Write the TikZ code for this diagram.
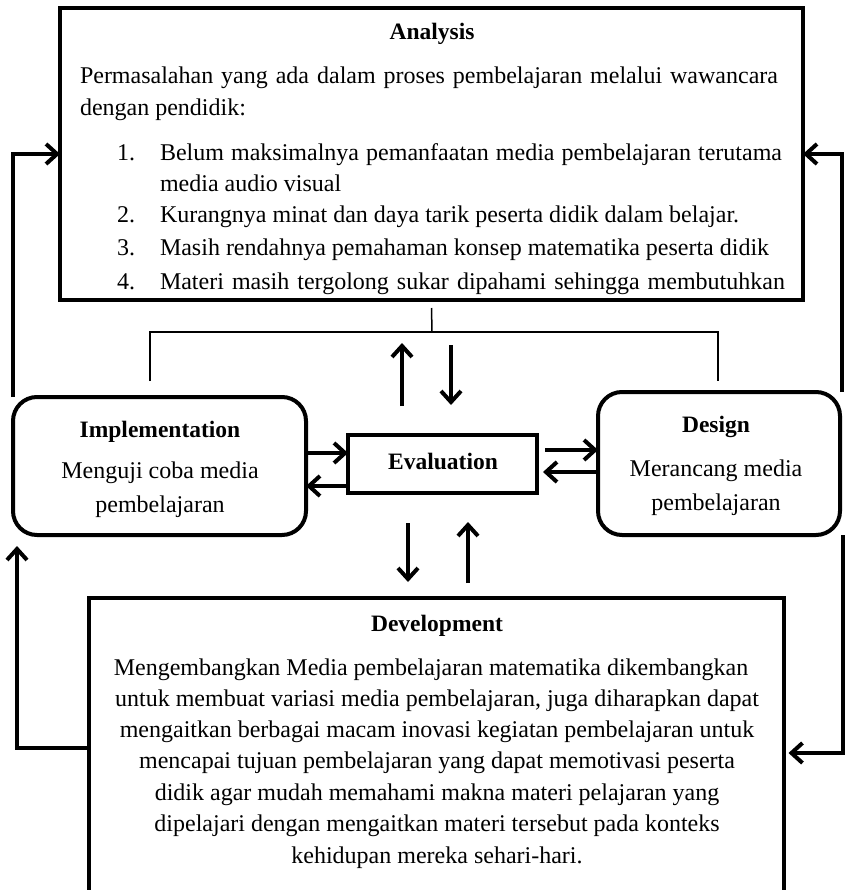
\documentclass[tikz,border=0pt]{standalone}
\usepackage{fontspec}
\setmainfont{Liberation Serif}
\usetikzlibrary{arrows.meta}
\tikzset{
  every node/.style={outer sep=0pt},
  box/.style={draw, line width=4pt, rectangle, inner sep=0pt},
  rbox/.style={box, rounded corners=24pt},
  conn/.style={line width=4pt},
  arr/.style={conn, -{Straight Barb[length=11pt,width=20pt]}},
  thinline/.style={line width=1.5pt},
  body/.style={font=\fontsize{24}{28}\selectfont, inner sep=0pt, anchor=base},
  ttl/.style={font=\fontsize{23.5}{28}\selectfont\bfseries, inner sep=0pt, anchor=base},
}
\begin{document}
\begin{tikzpicture}[x=1pt,y=-1pt]
\useasboundingbox (0,0) rectangle (846,890);
\clip (0,0) rectangle (846,890);
% ---------- Analysis ----------
\begin{scope}
\clip (60,8) rectangle (803,299);
\node[ttl] (anat) at (432,40) {Analysis};
\node[body, anchor=base west] (a1) at (80,84) {\makebox[698pt][s]{Permasalahan yang ada dalam proses pembelajaran melalui wawancara}};
\node[body, anchor=base west] (a2) at (80,116) {dengan pendidik:};
\node[body, anchor=base west] (n1) at (117,161) {1.};
\node[body, anchor=base west] (i1) at (160,161) {\makebox[622pt][s]{Belum maksimalnya pemanfaatan media pembelajaran terutama}};
\node[body, anchor=base west] (i1b) at (160,192) {media audio visual};
\node[body, anchor=base west] (n2) at (117,223) {2.};
\node[body, anchor=base west] (i2) at (160,223) {Kurangnya minat dan daya tarik peserta didik dalam belajar.};
\node[body, anchor=base west] (n3) at (117,256) {3.};
\node[body, anchor=base west] (i3) at (160,256) {Masih rendahnya pemahaman konsep matematika peserta didik};
\node[body, anchor=base west] (n4) at (117,289) {4.};
\node[body, anchor=base west] (i4) at (160,289) {\makebox[625pt][s]{Materi masih tergolong sukar dipahami sehingga membutuhkan}};
\end{scope}
\node[box, minimum width=743pt, minimum height=292pt] (ana) at (431.5,154) {};
% ---------- Development ----------
\node[box, minimum width=695pt, minimum height=400pt] (dev) at (436,798) {};
\node[ttl] (devt) at (437,631) {Development};
\node[body] (d1) at (431,675) {Mengembangkan Media pembelajaran matematika dikembangkan};
\node[body] (d2) at (437,706) {untuk membuat variasi media pembelajaran, juga diharapkan dapat};
\node[body] (d3) at (437,737) {mengaitkan berbagai macam inovasi kegiatan pembelajaran untuk};
\node[body] (d4) at (437,768) {mencapai tujuan pembelajaran yang dapat memotivasi peserta};
\node[body] (d5) at (437,800) {didik agar mudah memahami makna materi pelajaran yang};
\node[body] (d6) at (437,831) {dipelajari dengan mengaitkan materi tersebut pada konteks};
\node[body] (d7) at (437,863) {kehidupan mereka sehari-hari.};
% ---------- Implementation ----------
\node[rbox, minimum width=293pt, minimum height=138pt] (imp) at (159.5,466) {};
\node[ttl] (impt) at (160,437) {Implementation};
\node[body] (imp1) at (160,478) {Menguji coba media};
\node[body] (imp2) at (160,512) {pembelajaran};
% ---------- Design ----------
\node[rbox, minimum width=242pt, minimum height=143pt] (des) at (719,463.5) {};
\node[ttl] (dest) at (716,432) {Design};
\node[body] (des1) at (716,476) {Merancang media};
\node[body] (des2) at (716,510) {pembelajaran};
% ---------- Evaluation ----------
\node[box, minimum width=189pt, minimum height=58pt] (eva) at (442.5,464) {};
\node[ttl] (evat) at (443,469) {Evaluation};
% ---------- thin bracket ----------
\coordinate (tm) at (432,332);
\coordinate (tl) at (150,381);
\coordinate (tr) at (718,381);
\draw[thinline] ([yshift=-8pt]ana.south) -- (tm);
\draw[thinline] (tl) |- (tm) -| (tr);
% ---------- vertical arrows ----------
\coordinate (ua1) at (402,406); \coordinate (ua2) at (402,343);
\coordinate (da1) at (451,345); \coordinate (da2) at (451,405);
\coordinate (db1) at (408,523); \coordinate (db2) at (408,582);
\coordinate (ub1) at (468,583); \coordinate (ub2) at (468,522);
\draw[arr] (ua1) -- (ua2);
\draw[arr] (da1) -- (da2);
\draw[arr] (db1) -- (db2);
\draw[arr] (ub1) -- (ub2);
% ---------- horizontal arrows ----------
\draw[arr] (imp.east |- 0,453) -- (eva.west |- 0,453);
\draw[arr] (eva.west |- 0,486) -- (imp.east |- 0,486);
\draw[arr] ([xshift=8pt]eva.east |- 0,450) -- (des.west |- 0,450);
\draw[arr] (des.west |- 0,472) -- ([xshift=6pt]eva.east |- 0,472);
% ---------- feedback loops ----------
\coordinate (dl) at (dev.west |- 0,748);
\coordinate (dr) at (dev.east |- 0,753);
\draw[arr] (imp.north west) |- (ana.west);
\draw[arr] ([xshift=2pt]des.north east) |- (ana.east);
\draw[arr, shorten >=11pt] (dl) -| ([xshift=4pt]imp.south west);
\draw[arr, shorten >=5pt] ([xshift=3pt]des.south east) |- (dr);
\end{tikzpicture}
\end{document}
